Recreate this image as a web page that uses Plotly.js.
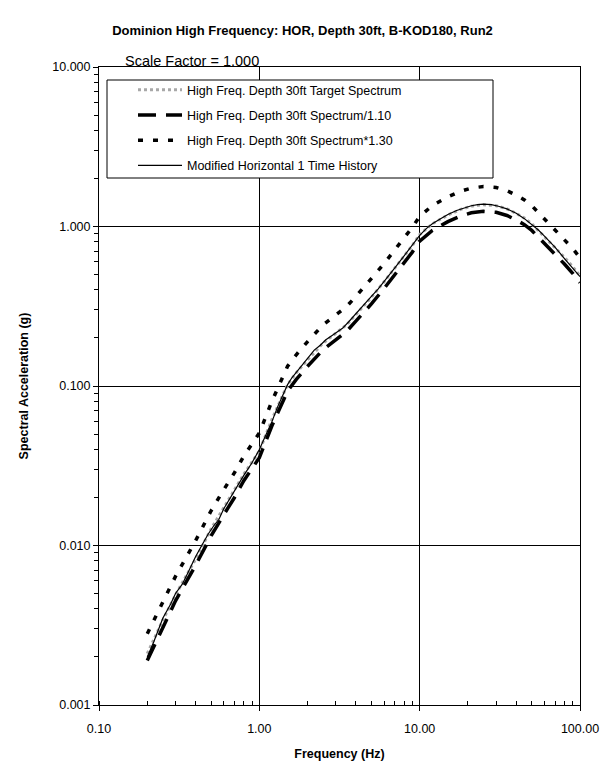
<!DOCTYPE html>
<html>
<head>
<meta charset="utf-8">
<script src="https://cdn.plot.ly/plotly-3.0.1.min.js"></script>
<style>html,body{margin:0;padding:0;background:#fff;}#chart{width:605px;height:761px;}</style>
</head>
<body>
<div id="chart"></div>
<script>
// Target spectrum
const targetFreq = [0.2,0.25,0.3,0.4,0.5,0.6,0.7,0.8,1.0,1.2,1.5,1.7,2.0,2.5,3.0,3.5,4.0,5.0,6.0,7.0,8.0,9.0,10,12,15,18,21,25,30,35,40,45,50,60,70,80,90,100];
const targetSa   = [0.0021,0.0034,0.0049,0.0082,0.0127,0.0172,0.022,0.028,0.039,0.062,0.102,0.121,0.146,0.186,0.214,0.242,0.280,0.360,0.450,0.550,0.650,0.760,0.890,1.040,1.180,1.280,1.340,1.370,1.350,1.290,1.210,1.130,1.040,0.860,0.740,0.640,0.560,0.490];
// Spectrum / 1.10
const lowerSa    = [0.0019,0.0031,0.0045,0.0075,0.0115,0.0156,0.020,0.0255,0.0355,0.0565,0.093,0.110,0.133,0.169,0.195,0.220,0.255,0.327,0.409,0.500,0.591,0.691,0.809,0.945,1.073,1.164,1.218,1.245,1.227,1.173,1.100,1.027,0.945,0.782,0.673,0.582,0.509,0.445];
// Spectrum * 1.30
const upperSa    = [0.0028,0.0044,0.0064,0.0107,0.0165,0.0224,0.0286,0.0364,0.0507,0.0806,0.133,0.157,0.190,0.242,0.278,0.315,0.364,0.468,0.585,0.715,0.845,0.988,1.157,1.352,1.534,1.664,1.742,1.781,1.755,1.677,1.573,1.469,1.352,1.118,0.962,0.832,0.728,0.637];
// Modified horizontal 1 time history
const histFreq = [0.2,0.22,0.25,0.28,0.3,0.33,0.36,0.4,0.44,0.48,0.52,0.56,0.6,0.65,0.7,0.75,0.8,0.9,1.0,1.1,1.2,1.3,1.4,1.5,1.6,1.7,1.8,2.0,2.2,2.4,2.6,2.8,3.0,3.3,3.6,4.0,4.5,5.0,5.5,6.0,7.0,8.0,9.0,10,11,12,13.5,15,17,19,21,23,25,28,31,35,40,45,50,55,60,70,80,90,100];
const histSa   = [0.0020,0.0025,0.0035,0.0043,0.0050,0.0057,0.0068,0.0085,0.0101,0.0118,0.0133,0.0146,0.0170,0.0195,0.0220,0.0245,0.0275,0.0330,0.0400,0.0495,0.0600,0.0740,0.0880,0.1020,0.1130,0.1220,0.1310,0.1500,0.1680,0.1800,0.1950,0.2050,0.2150,0.2300,0.2520,0.2850,0.3250,0.3650,0.4050,0.4500,0.5500,0.6550,0.7600,0.8800,0.9700,1.0400,1.1200,1.1900,1.2600,1.3100,1.3500,1.3700,1.3800,1.3700,1.3400,1.2900,1.2100,1.1200,1.0300,0.9500,0.8700,0.7400,0.6300,0.5500,0.4850];

const xTickVals = [0.1,1,10,100];
const xTickText = ["0.10","1.00","10.00","100.00"];
const yTickVals = [0.001,0.01,0.1,1,10];
const yTickText = ["0.001","0.010","0.100","1.000","10.000"];

const FONT = '"Liberation Sans", Arial, sans-serif';

// plot area geometry (px) used to place legend frame / annotation
const L = 99, T = 67, W = 481, H = 638;
const px = v => (v - L) / W;
const py = v => 1 - (v - T) / H;

const traces = [
  {x: targetFreq, y: targetSa, type:'scatter', mode:'lines', name:'High Freq. Depth 30ft Target Spectrum',
   legendgroup:'a', line:{color:'#a8a8a8', width:3, dash:'dot'}},
  {x: targetFreq, y: lowerSa, type:'scatter', mode:'lines', name:'High Freq. Depth 30ft Spectrum/1.10',
   legendgroup:'b', line:{color:'#000', width:3.5, dash:'18px,10px'}},
  {x: targetFreq, y: upperSa, type:'scatter', mode:'lines', name:'High Freq. Depth 30ft Spectrum*1.30',
   legendgroup:'c', line:{color:'#000', width:3.5, dash:'5px,10px'}},
  {x: histFreq, y: histSa, type:'scatter', mode:'lines', name:'Modified Horizontal 1 Time History',
   legendgroup:'d', line:{color:'#000', width:1.2}}
];

const layout = {
  width:605, height:761,
  margin:{l:L, r:605-L-W, t:T, b:761-T-H},
  paper_bgcolor:'#fff', plot_bgcolor:'#fff',
  font:{family:FONT, size:12, color:'#000'},
  title:{text:'<b>Dominion High Frequency: HOR, Depth 30ft, B-KOD180, Run2</b>',
         font:{family:FONT, size:13, color:'#000'}, x:0.5, xanchor:'center',
         yref:'container', y:1-30/761, yanchor:'middle'},
  xaxis:{type:'log', range:[-1,2], tickmode:'array', tickvals:xTickVals, ticktext:xTickText,
         ticks:'outside', ticklen:5, tickcolor:'#000', linecolor:'#000', linewidth:1, mirror:true,
         showgrid:true, gridcolor:'#000', gridwidth:1, zeroline:false, ticklabelstandoff:7,
         minor:{ticks:'inside', ticklen:4, tickcolor:'#000', dtick:'D1', showgrid:false},
         tickfont:{family:FONT, size:12.5},
         title:{text:'<b>Frequency (Hz)</b>', font:{family:FONT, size:12.5}, standoff:14}},
  yaxis:{type:'log', range:[-3,1], tickmode:'array', tickvals:yTickVals, ticktext:yTickText,
         ticks:'outside', ticklen:5, tickcolor:'#000', linecolor:'#000', linewidth:1, mirror:true,
         showgrid:true, gridcolor:'#000', gridwidth:1, zeroline:false,
         minor:{ticks:'outside', ticklen:4, tickcolor:'#000', dtick:'D1', showgrid:false},
         tickfont:{family:FONT, size:12.5},
         title:{text:'<b>Spectral Acceleration (g)</b>', font:{family:FONT, size:12.5}, standoff:20}},
  showlegend:true,
  legend:{x:px(133), y:py(75), xanchor:'left', yanchor:'top',
          bgcolor:'rgba(0,0,0,0)', borderwidth:0,
          font:{family:FONT, size:12.5, color:'#000'}, itemwidth:44,
          traceorder:'grouped', tracegroupgap:6},
  shapes:[
    {type:'rect', xref:'paper', yref:'paper', x0:px(107), x1:px(493), y0:py(178), y1:py(80),
     layer:'above', fillcolor:'#fff', line:{color:'#000', width:1}}
  ],
  annotations:[
    {text:'Scale Factor = 1.000', xref:'paper', yref:'paper', x:px(123), y:py(61),
     xanchor:'left', yanchor:'middle', showarrow:false, font:{family:FONT, size:14.5, color:'#000'}}
  ]
};

Plotly.newPlot('chart', traces, layout, {staticPlot:true, displayModeBar:false});
</script>
</body>
</html>
